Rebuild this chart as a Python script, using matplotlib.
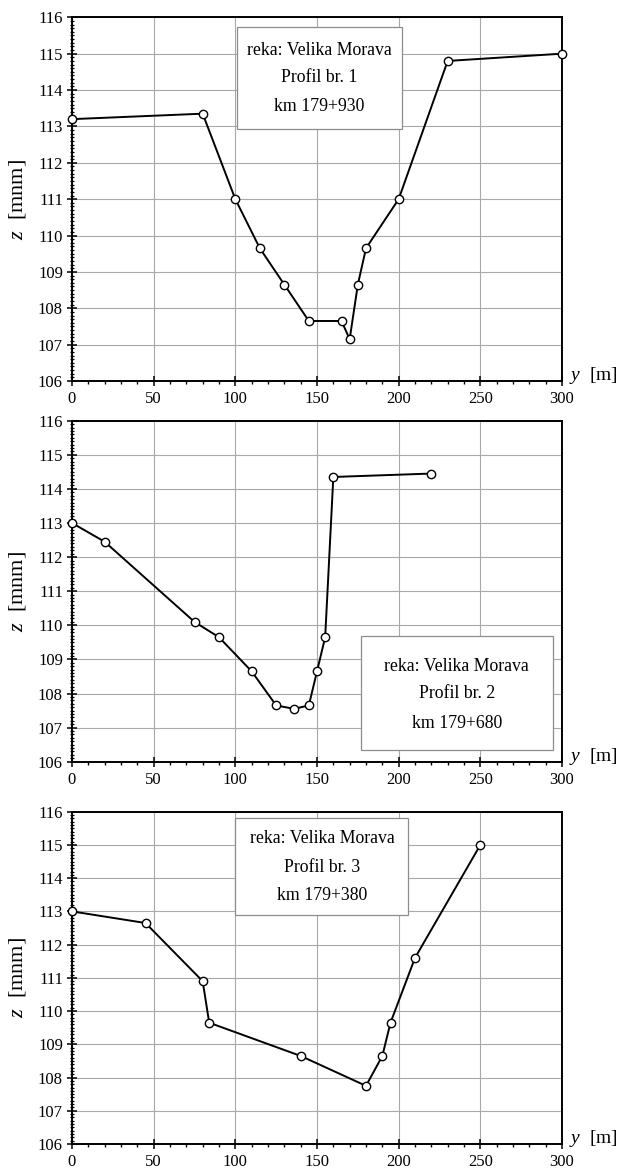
import matplotlib
matplotlib.use("Agg")
import matplotlib.pyplot as plt
from matplotlib.ticker import MultipleLocator
from matplotlib.patches import Rectangle

plt.rcParams['font.family'] = ['Liberation Serif', 'DejaVu Serif']
plt.rcParams['mathtext.fontset'] = 'custom'
plt.rcParams['mathtext.it'] = 'Liberation Serif:italic'
plt.rcParams['mathtext.rm'] = 'Liberation Serif'

# ---- data ----
y1 = [0, 80, 100, 115, 130, 145, 165, 170, 175, 180, 200, 230, 300]
z1 = [113.2, 113.35, 111.0, 109.65, 108.65, 107.65, 107.65, 107.15, 108.65, 109.65, 111.0, 114.8, 115.0]

y2 = [0, 20, 75, 90, 110, 125, 136, 145, 150, 155, 160, 220]
z2 = [113.0, 112.45, 110.1, 109.65, 108.65, 107.65, 107.55, 107.65, 108.65, 109.65, 114.35, 114.45]

y3 = [0, 45, 80, 84, 140, 180, 190, 195, 210, 250]
z3 = [113.0, 112.65, 110.9, 109.65, 108.65, 107.75, 108.65, 109.65, 111.6, 115.0]

labels = [
    ["reka: Velika Morava", "Profil br. 1", "km 179+930"],
    ["reka: Velika Morava", "Profil br. 2", "km 179+680"],
    ["reka: Velika Morava", "Profil br. 3", "km 179+380"],
]

x_ticks = [0, 50, 100, 150, 200, 250, 300]
z_ticks = [106, 107, 108, 109, 110, 111, 112, 113, 114, 115, 116]

# ---- layout ----
W, H = 621, 1172
fig = plt.figure(figsize=(W / 100, H / 100), dpi=100)
left, right = 72, 562
panels_px = [(17.3, 381.0), (420.7, 761.7), (811.7, 1144.0)]
# annotation boxes (data coords): x0, x1, z0, z1, text center x, line z's
boxes = [
    (101, 202, 112.92, 115.74, 151.5, [115.10, 114.35, 113.56]),
    (177, 294.5, 106.34, 109.70, 235.5, [108.79, 107.99, 107.13]),
    (100, 206, 112.89, 115.80, 153.0, [115.20, 114.33, 113.49]),
]
series = [(y1, z1), (y2, z2), (y3, z3)]

for i, ((top, bot), (xs, zs), box, lab) in enumerate(zip(panels_px, series, boxes, labels)):
    ax = fig.add_axes([left / W, 1 - bot / H, (right - left) / W, (bot - top) / H])
    ax.set_xlim(0, 300)
    ax.set_ylim(106, 116)
    ax.set_xticks(x_ticks)
    ax.set_yticks(z_ticks)
    ax.xaxis.set_minor_locator(MultipleLocator(10))
    ax.yaxis.set_minor_locator(MultipleLocator(0.1))
    ax.grid(True, which='major', color='#a8a8a8', linewidth=0.8)
    ax.set_axisbelow(True)
    for s in ax.spines.values():
        s.set_linewidth(1.4)
        s.set_color('black')
    ax.tick_params(axis='both', which='major', direction='inout', length=7, width=1.1,
                   labelsize=12, pad=3)
    ax.tick_params(axis='x', which='major', pad=4)
    ax.tick_params(axis='x', which='minor', direction='out', length=2.5, width=1.0)
    ax.tick_params(axis='y', which='minor', direction='inout', length=2.5, width=0.9)

    ax.plot(xs, zs, color='black', linewidth=1.4, marker='o', markersize=6,
            markerfacecolor='white', markeredgecolor='black', markeredgewidth=1.0,
            zorder=4, clip_on=False)

    x0, x1, b0, b1, tcx, lines = box
    ax.add_patch(Rectangle((x0, b0), x1 - x0, b1 - b0, facecolor='white',
                           edgecolor='#8c8c8c', linewidth=0.9, zorder=3))
    for txt, zz in zip(lab, lines):
        ax.text(tcx, zz, txt, ha='center', va='center', fontsize=12.8, zorder=5)

    ax.set_ylabel(r'$z$  [mnm]', fontsize=16)
    ax.yaxis.set_label_coords((17 - left) / (right - left), 0.5)
    ax.yaxis.label.set_verticalalignment('center')
    ax.annotate(r'$y$  [m]', xy=(1, 0), xycoords='axes fraction',
                xytext=(5, 4), textcoords='offset points',
                ha='left', va='center', fontsize=14, annotation_clip=False)

fig.savefig('out.png', dpi=100)
